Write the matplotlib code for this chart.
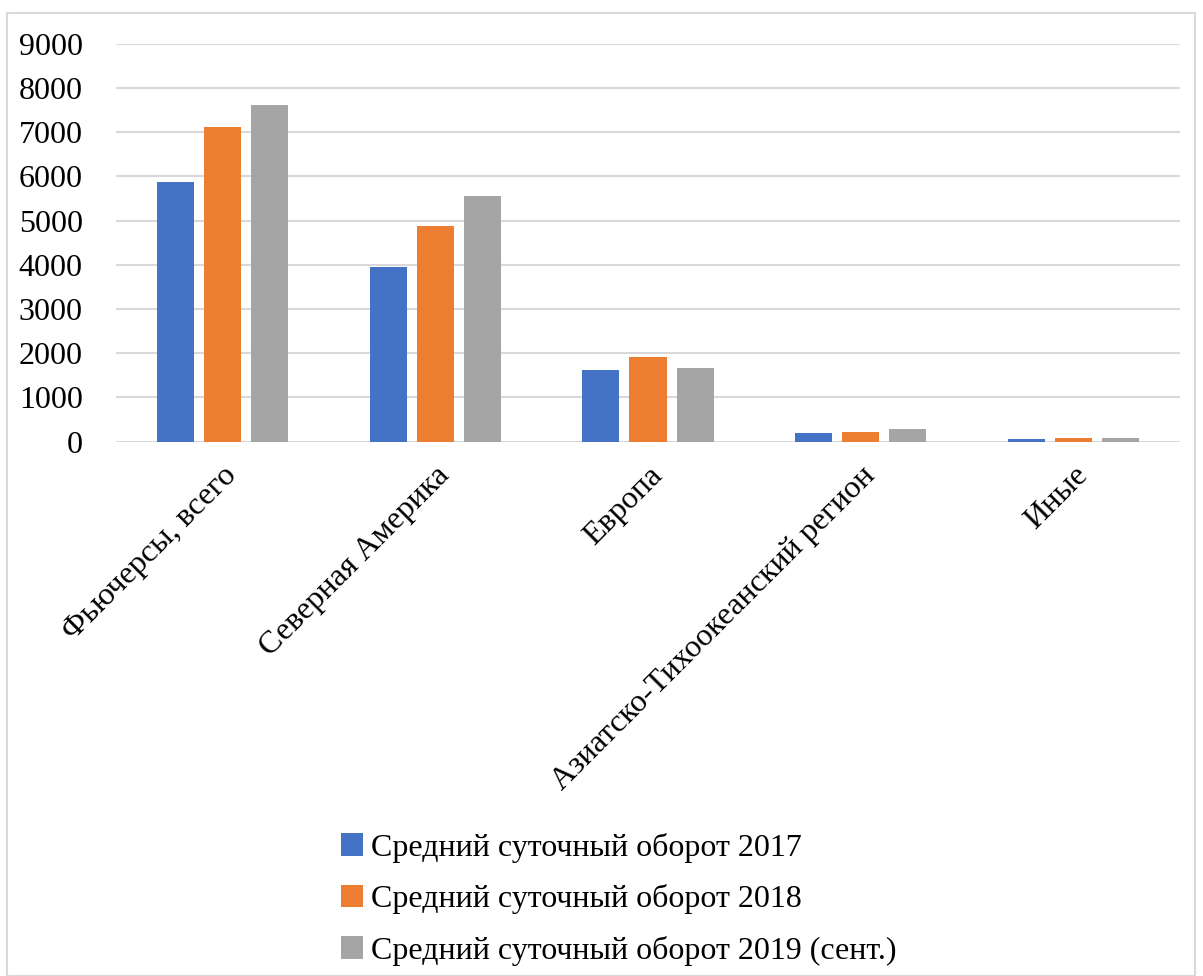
import matplotlib
matplotlib.use("Agg")
import matplotlib.pyplot as plt
import numpy as np
from matplotlib.patches import Rectangle

categories = ["Фьючерсы, всего", "Северная Америка", "Европа",
              "Азиатско-Тихоокеанский регион", "Иные"]
series_names = ["Средний суточный оборот 2017",
                "Средний суточный оборот 2018",
                "Средний суточный оборот 2019 (сент.)"]
v2017 = [5876, 3946, 1629, 197, 68]
v2018 = [7120, 4873, 1916, 219, 84]
v2019 = [7624, 5560, 1674, 294, 84]
colors = ["#4472C4", "#ED7D31", "#A5A5A5"]

plt.rcParams['font.family'] = ['Liberation Serif', 'DejaVu Serif']

fig = plt.figure(figsize=(12.03, 9.76), dpi=100)
ax = fig.add_axes([116/1203, 1 - 441.7/976, (1180-116)/1203, (441.7-43.7)/976])

x = np.arange(len(categories))
w = 0.174
step = 0.221
for i, (vals, name) in enumerate(zip([v2017, v2018, v2019], series_names)):
    ax.bar(x + (i-1)*step, vals, width=w, color=colors[i], label=name, zorder=3)

ax.set_xlim(-0.5, len(categories)-0.5)
ax.set_ylim(0, 9000)
ax.set_yticks(np.arange(0, 9001, 1000))
ax.yaxis.grid(True, color="#D9D9D9", linewidth=1.5, zorder=0)
for s in ax.spines.values():
    s.set_visible(False)
ax.tick_params(axis='both', length=0, labelsize=23, colors='black')
ax.tick_params(axis='y', pad=24)
ax.set_xticks(x)
ax.set_xticklabels(categories, rotation=45, ha='right', rotation_mode='anchor')
ax.tick_params(axis='x', pad=14)

leg = fig.legend(loc='upper left', bbox_to_anchor=(312/1203, 1 - 804/976),
                 frameon=False, fontsize=23, handlelength=0.7, handleheight=0.7,
                 handletextpad=0.25, labelspacing=0.67)

fig.patches.append(Rectangle((7/1203, 0), 1188/1203, 1 - 13/976,
                             transform=fig.transFigure, fill=False,
                             edgecolor="#D9D9D9", linewidth=1.5))

fig.savefig("out.png", dpi=100, facecolor='white')
